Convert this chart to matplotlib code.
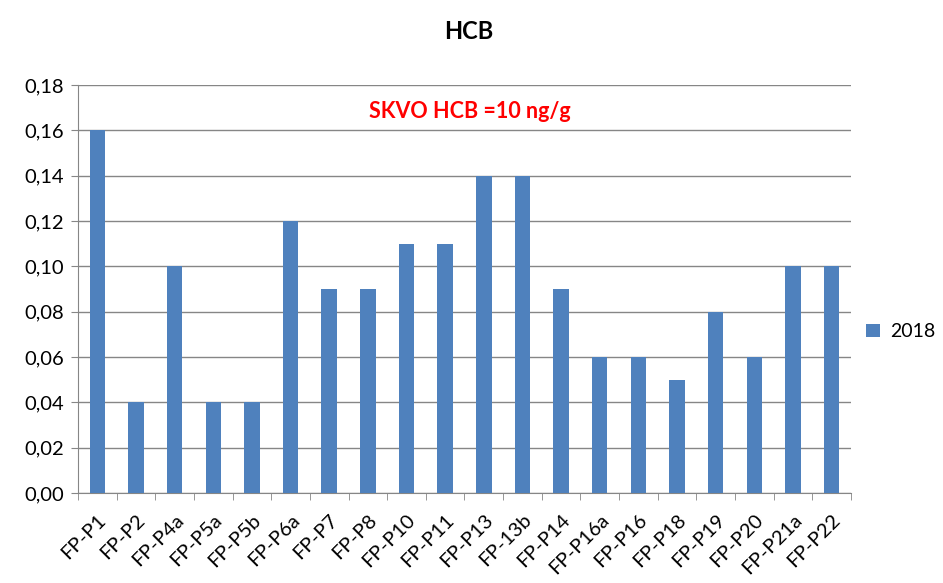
import numpy as np
from matplotlib import pyplot as plt
from matplotlib.ticker import FixedLocator, FuncFormatter

# ---------- Data
sites = ['FP-P1', 'FP-P2', 'FP-P4a', 'FP-P5a', 'FP-P5b', 'FP-P6a', 'FP-P7', 'FP-P8',
         'FP-P10', 'FP-P11', 'FP-P13', 'FP-13b', 'FP-P14', 'FP-P16a', 'FP-P16',
         'FP-P18', 'FP-P19', 'FP-P20', 'FP-P21a', 'FP-P22']
hcb_2018 = [0.16, 0.04, 0.10, 0.04, 0.04, 0.12, 0.09, 0.09, 0.11, 0.11,
            0.14, 0.14, 0.09, 0.06, 0.06, 0.05, 0.08, 0.06, 0.10, 0.10]
yticks = [0.00, 0.02, 0.04, 0.06, 0.08, 0.10, 0.12, 0.14, 0.16, 0.18]

plt.rcParams['font.family'] = ['Lato', 'DejaVu Sans']

fig = plt.figure(figsize=(9.43, 5.83), dpi=100)
ax = fig.add_axes([0.0827, 0.1544, 0.8197, 0.6998])

x = np.arange(len(sites))
ax.bar(x, hcb_2018, width=0.4, color='#4F81BD', label='2018', zorder=3)

ax.set_xlim(-0.5, len(sites) - 0.5)
ax.set_ylim(0, 0.18)
ax.set_yticks(yticks)
ax.yaxis.set_major_formatter(FuncFormatter(lambda v, p: f'{v:.2f}'.replace('.', ',')))
ax.grid(axis='y', color='#868686', linewidth=1, zorder=0)

ax.set_xticks(x)
ax.set_xticklabels(sites, rotation=45, ha='right', rotation_mode='anchor')
ax.xaxis.set_minor_locator(FixedLocator(np.arange(-0.5, len(sites), 1)))
ax.tick_params(axis='x', which='major', length=0, pad=13, labelsize=14.5)
ax.tick_params(axis='x', which='minor', length=5, color='#868686')
ax.tick_params(axis='y', length=5, color='#868686', labelsize=14.5, pad=5)

for s in ['top', 'right']:
    ax.spines[s].set_visible(False)
for s in ['left', 'bottom']:
    ax.spines[s].set_color('#868686')

ax.text(0.507, 0.934, 'SKVO HCB =10 ng/g', transform=ax.transAxes, color='#FF0000',
        fontsize=15.5, fontweight='bold', ha='center', va='center')

fig.suptitle('HCB', x=0.497, y=0.965, fontsize=17, fontweight='bold')
ax.legend(loc='center left', bbox_to_anchor=(1.02, 0.395), frameon=False,
          borderpad=0, borderaxespad=0, fontsize=14,
          handlelength=0.7, handleheight=0.7, handletextpad=0.5)

fig.savefig('out.png', dpi=100)
